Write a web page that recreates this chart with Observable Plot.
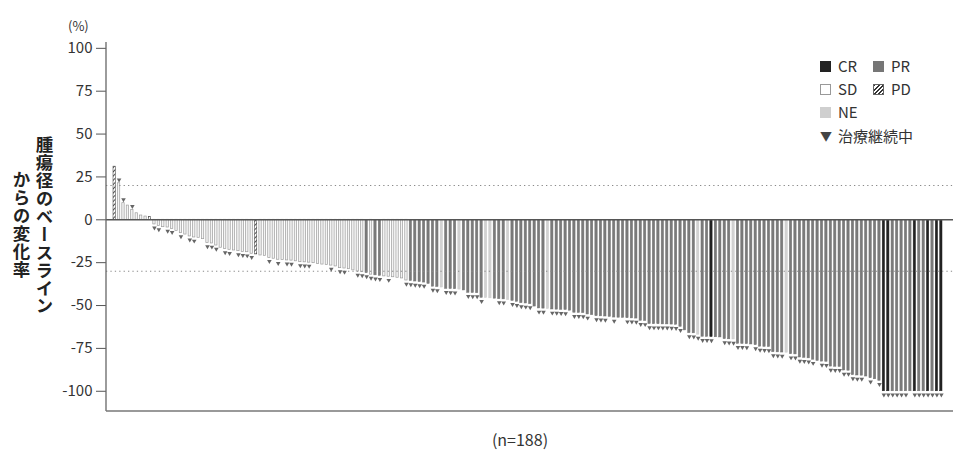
<!DOCTYPE html>
<html><head><meta charset="utf-8">
<script src="https://cdn.jsdelivr.net/npm/d3@7"></script>
<script src="https://cdn.jsdelivr.net/npm/@observablehq/plot@0.6"></script>
<style>
body{margin:0;background:#fff;font-family:"Noto Sans CJK JP","Noto Sans",sans-serif;color:#333;}
#wrap{position:relative;width:953px;height:450px;overflow:hidden;}
.abs{position:absolute;white-space:nowrap;}
#ylab{position:absolute;left:8px;top:120px;height:210px;width:48px;writing-mode:vertical-rl;text-align:center;font-size:17.5px;line-height:23px;font-weight:600;color:#222;letter-spacing:0.4px;}
#unit{left:68px;top:19px;font-size:13px;line-height:14px;}
#cap{left:520px;top:431px;transform:translateX(-50%);font-size:16px;line-height:17px;}
.lg{position:absolute;font-size:15px;line-height:16px;display:flex;align-items:center;}
.sw{width:11px;height:11px;box-sizing:border-box;margin-right:7px;display:inline-block;}
</style></head><body>
<div id="wrap"></div>
<script>
// values: % change from baseline in tumour diameter, 188 patients (sorted)
const values = [
31,21.3,9.7,8.3,5.8,3.8,2.5,1.9,1.7,
-2.7,-3.7,-4.3,-4.5,-5.3,-6.6,-7.8,-8.6,-9.7,-10.3,-10.5,-11.3,-13.6,-13.8,-15,-16.3,-17.1,-17.5,-17.9,-18.3,-18.7,-18.9,-19.8,-20.2,-20.8,-21,-22.2,-22.7,
-23.3,-23.5,-23.7,-23.8,-24.2,-24.7,-24.8,-25,-25.3,-25.8,-26.1,-26.4,-26.7,-27.2,-28.2,-28.4,-28.8,-29.5,-30.2,-30.5,-31.1,-32,-32.4,-32.7,-33,-33.2,-33.5,-33.8,-34.2,-35.4,-35.7,-36,-36.3,-36.6,-37.4,-39,-39.2,
-39.5,-40.3,-40.4,-40.5,-40.7,-41.2,-42.6,-42.7,-42.8,-45.5,-45.6,-45.8,-46,-46.3,-46.4,-46.8,-47.3,-47.8,-48.6,-48.8,-49.2,-50.6,-51.7,-51.8,-52,-52.3,-52.4,-52.5,-52.6,-53,-54.2,-54.3,-54.4,-55.2,-55.6,-56.2,-56.3,-56.4,
-56.6,-57,-57.1,-57.2,-57.4,-57.5,-57.6,-58.9,-59,-60.8,-60.9,-60.9,-61,-61,-61.1,-61.2,-62.4,-64.5,-66.1,-66.2,-67,-68.2,-68.3,-68.4,-68.5,-68.6,-69.6,-69.7,-69.8,-72.3,-72.4,-72.5,-72.7,-73.1,-74,-74.1,-74.2,
-77.2,-77.3,-77.4,-77.5,-78.4,-78.5,-80.3,-80.5,-80.8,-81.6,-82.3,-82.7,-82.8,-85.6,-85.7,-85.8,-87.9,-88,-90.6,-90.8,-90.9,-91.4,-92.4,-93,-93.9,
-100,-100,-100,-100,-100,-100,-100,-100,-100,-100,-100,-100,-100,-100
];
// best overall response per patient
const responses = [
"PD","SD","SD","SD","SD","SD","SD","SD","PD",
"SD","SD","SD","SD","SD","SD","SD","SD","SD","SD","SD","SD","SD","SD","SD","SD","SD","SD","SD","SD","SD","SD","SD","PD","SD","SD","SD","SD",
"SD","SD","SD","SD","SD","SD","SD","SD","SD","SD","SD","SD","SD","SD","SD","SD","SD","SD","SD","SD","PR","SD","PR","PR","SD","SD","SD","SD","SD","SD","PR","PR","PR","PR","PR","PR","PR",
"NE","PR","PR","PR","NE","PR","PR","PR","PR","PR","NE","NE","PR","PR","PR","NE","PR","PR","PR","PR","PR","PR","PR","PR","NE","PR","PR","PR","PR","PR","PR","PR","PR","PR","PR","PR","PR","PR",
"PR","PR","PR","PR","PR","PR","PR","PR","PR","PR","PR","PR","PR","PR","PR","PR","PR","PR","PR","PR","NE","PR","PR","CR","PR","PR","PR","PR","NE","PR","PR","PR","PR","PR","PR","PR","PR",
"PR","PR","PR","NE","PR","PR","PR","PR","PR","PR","PR","PR","PR","PR","PR","PR","PR","PR","PR","PR","PR","PR","PR","PR","PR",
"CR","CR","PR","PR","PR","PR","PR","CR","PR","PR","CR","PR","CR","CR"
];
// 1 = treatment ongoing (治療継続中)
const ongoing = [
0,1,1,0,1,0,0,0,0,
1,1,0,1,1,0,1,0,1,1,0,0,1,1,1,0,1,1,0,1,1,1,1,0,0,0,1,0,
1,0,1,1,0,1,1,1,0,0,0,0,1,0,1,1,0,0,1,1,1,1,1,1,0,1,0,0,0,1,1,1,1,1,0,1,1,
0,1,1,1,0,0,1,1,1,1,0,0,0,1,1,0,1,1,1,1,1,0,1,1,0,1,1,1,1,0,1,1,1,1,0,1,1,1,
0,1,0,0,1,1,1,1,1,1,1,1,1,1,1,1,1,0,1,1,1,1,1,1,0,0,1,1,1,1,1,1,0,1,1,1,1,
1,1,1,0,1,1,1,1,1,1,0,1,1,1,1,1,1,1,1,1,1,0,1,0,1,
1,1,1,1,1,1,0,1,1,1,1,1,1,1
];
const yTicks = [100,75,50,25,0,-25,-50,-75,-100];
const thresholds = [20,-30];
const legendItems = ["CR","PR","SD","PD","NE"];
const legendMarker = "治療継続中";
const nLabel = "(n=188)";
const unitLabel = "(%)";
const yTitle = "腫瘍径のベースライン<br>からの変化率";

const data = values.map((v,i)=>({i, v, r: responses[i], on: ongoing[i]}));
const idx = data.map(d=>d.i);
const styles = {
  CR:{fill:"#222", stroke:"#222"},
  PR:{fill:"#7a7a7a", stroke:"#707070"},
  SD:{fill:"#f4f4f4", stroke:"#9c9c9c"},
  PD:{fill:"url(#hatch)", stroke:"#333"},
  NE:{fill:"#d2d2d2", stroke:"#cacaca"}
};

const marks = [];
for (const k of ["SD","NE","PR","CR","PD"]) {
  marks.push(Plot.barY(data.filter(d=>d.r===k), {x:"i", y:"v", fill: styles[k].fill, stroke: styles[k].stroke, strokeWidth: k==="SD"?0.7:0.5}));
}
marks.push(Plot.ruleY(thresholds, {stroke:"#8a8a8a", strokeDasharray:"1.3,3.1", strokeWidth:1}));
marks.push(Plot.ruleY([0], {stroke:"#555", strokeWidth:1.5}));
marks.push(Plot.dot(data.filter(d=>d.on && d.v<0), {x:"i", y:"v", symbol:"triangle", rotate:180, r:1.7, fill:"#666", stroke:"none", dy:3.5}));
marks.push(Plot.dot(data.filter(d=>d.on && d.v>=0), {x:"i", y:"v", symbol:"triangle", rotate:180, r:1.7, fill:"#666", stroke:"none", dy:-3.5}));
marks.push(Plot.axisY({ticks: yTicks, tickSize: 10, tickPadding: 4, fontSize: 15, tickFormat: d=>String(d), label: null, stroke:"#555", fill:"#333"}));

const chart = Plot.plot({
  width: 953, height: 450,
  marginLeft: 106, marginRight: 0, marginTop: 42, marginBottom: 39,
  style: {fontFamily: '"Noto Sans CJK JP","Noto Sans",sans-serif', fontSize: "15px", color:"#333", background:"#fff"},
  x: {type:"band", domain: idx, range:[113, 942], paddingInner: 0.48, paddingOuter: 0, axis: null},
  y: {domain: [-111.8, 103.4], axis: null},
  marks
});

const svg = d3.select(chart);
const defs = svg.insert("defs", ":first-child");
const pat = defs.append("pattern").attr("id","hatch").attr("patternUnits","userSpaceOnUse")
  .attr("width",3).attr("height",3).attr("patternTransform","rotate(45)");
pat.append("rect").attr("width",3).attr("height",3).attr("fill","#fff");
pat.append("line").attr("x1",0).attr("y1",0).attr("x2",0).attr("y2",3).attr("stroke","#222").attr("stroke-width",1.6);
const ys = chart.scale("y");
svg.append("line").attr("x1",106).attr("x2",106).attr("y1",ys.range[1]).attr("y2",ys.range[0]).attr("stroke","#666").attr("stroke-width",1.3);
svg.append("line").attr("x1",106).attr("x2",953).attr("y1",ys.range[0]).attr("y2",ys.range[0]).attr("stroke","#777").attr("stroke-width",1.3);

const wrap = document.getElementById("wrap");
wrap.appendChild(chart);
chart.style.position="absolute"; chart.style.left="0"; chart.style.top="0";

function addDiv(cls, html, style){ const d=document.createElement("div"); d.className=cls; d.innerHTML=html; if(style) Object.assign(d.style, style); wrap.appendChild(d); return d; }
const yl = document.createElement("div"); yl.id="ylab"; yl.innerHTML=yTitle; wrap.appendChild(yl);
const u = addDiv("abs", unitLabel); u.id="unit";
const c = addDiv("abs", nLabel); c.id="cap";

// legend
const swatchCss = {
  CR:"background:#222;",
  PR:"background:#767676;",
  SD:"background:#fff;border:1px solid #999;",
  PD:"background:repeating-linear-gradient(135deg,#333 0 1.3px,#fff 1.3px 3px);border:1px solid #666;",
  NE:"background:#cfcfcf;"
};
const pos = {CR:[820,58],PR:[873,58],SD:[820,81],PD:[873,81],NE:[820,104]};
for (const k of legendItems) {
  addDiv("lg", `<span class="sw" style="${swatchCss[k]}"></span>${k}`, {left:pos[k][0]+"px", top:pos[k][1]+"px"});
}
addDiv("lg", `<span style="display:inline-block;width:11px;margin-right:7px;font-size:12px;color:#444;">▼</span>${legendMarker}`, {left:"820px", top:"128px"});
</script>
</body></html>
